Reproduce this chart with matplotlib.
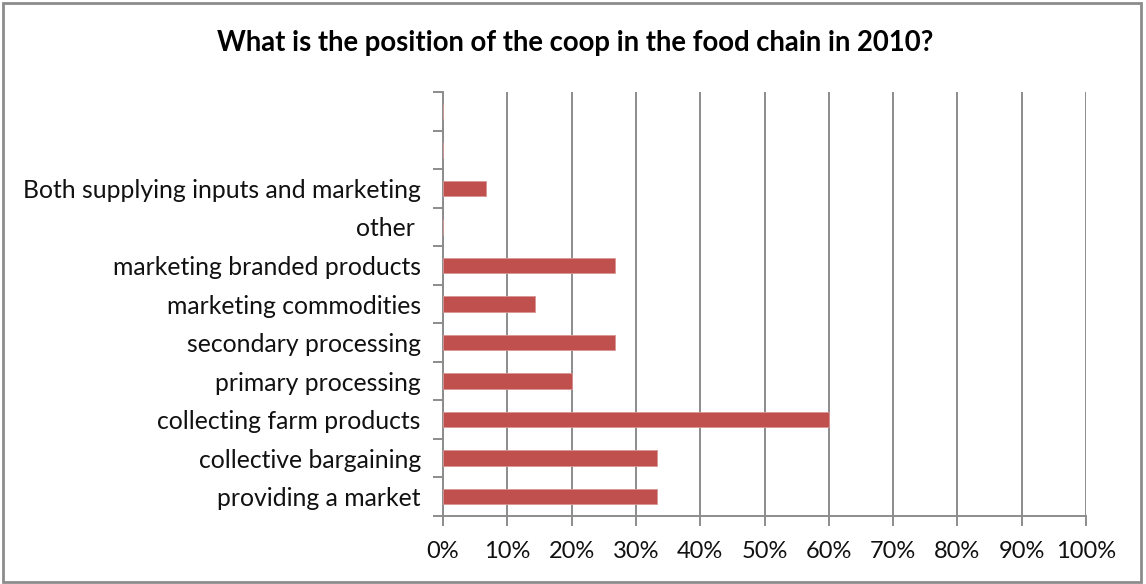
import matplotlib
matplotlib.use("Agg")
import matplotlib.pyplot as plt
from matplotlib.patches import Rectangle
from matplotlib.ticker import FuncFormatter

# Survey responses, listed bottom to top (two unused slots at the top)
categories = [
    "providing a market",
    "collective bargaining",
    "collecting farm products",
    "primary processing",
    "secondary processing",
    "marketing commodities",
    "marketing branded products",
    "other ",
    "Both supplying inputs and marketing",
    "",
    "",
]
shares = [33.3, 33.3, 60.0, 20.0, 26.7, 14.3, 26.7, 0.0, 6.7, 0.0, 0.0]
x_ticks = list(range(0, 101, 10))

title = "What is the position of the coop in the food chain in 2010?"

plt.rcParams["font.family"] = ["Lato", "DejaVu Sans"]

W, H = 1146, 584
fig = plt.figure(figsize=(W / 100, H / 100), dpi=100)
fig.patch.set_facecolor("white")

# outer frame
fig.patches.append(Rectangle((3 / W, 2 / H), 1138 / W, 579 / H, transform=fig.transFigure,
                             fill=False, edgecolor="#8c8c8c", linewidth=2))

ax = fig.add_axes([443 / W, (H - 516) / H, 643 / W, 424 / H])
pos = list(range(len(categories)))
ax.barh(pos, shares, height=0.4, color="#C0504D", edgecolor="#D99694", linewidth=0.6, zorder=3)

ax.set_xlim(0, 100)
ax.set_ylim(-0.5, len(categories) - 0.5)
ax.set_xticks(x_ticks)
ax.xaxis.set_major_formatter(FuncFormatter(lambda v, p: f"{v:.0f}%"))
ax.set_yticks([p - 0.5 for p in pos] + [len(categories) - 0.5])
ax.set_yticklabels([])
ax.set_yticks(pos, minor=True)
ax.set_yticklabels(categories, minor=True)
ax.tick_params(axis="y", which="minor", length=0, pad=16, labelsize=17.8, labelcolor="#111111")
ax.tick_params(axis="y", which="major", length=7, width=1.4, color="#8c8c8c")
ax.tick_params(axis="x", length=7, width=1.4, color="#8c8c8c", labelsize=17,
               labelcolor="#111111", pad=11)

ax.grid(axis="x", color="#8c8c8c", linewidth=1.4, zorder=0)
for s in ("top", "right"):
    ax.spines[s].set_visible(False)
for s in ("left", "bottom"):
    ax.spines[s].set_color("#8c8c8c")
    ax.spines[s].set_linewidth(1.4)

fig.text(575 / W, 1 - 43 / H, title, ha="center", va="center", fontsize=19.8,
         fontweight="bold", color="black")

fig.savefig("out.png", dpi=100)
